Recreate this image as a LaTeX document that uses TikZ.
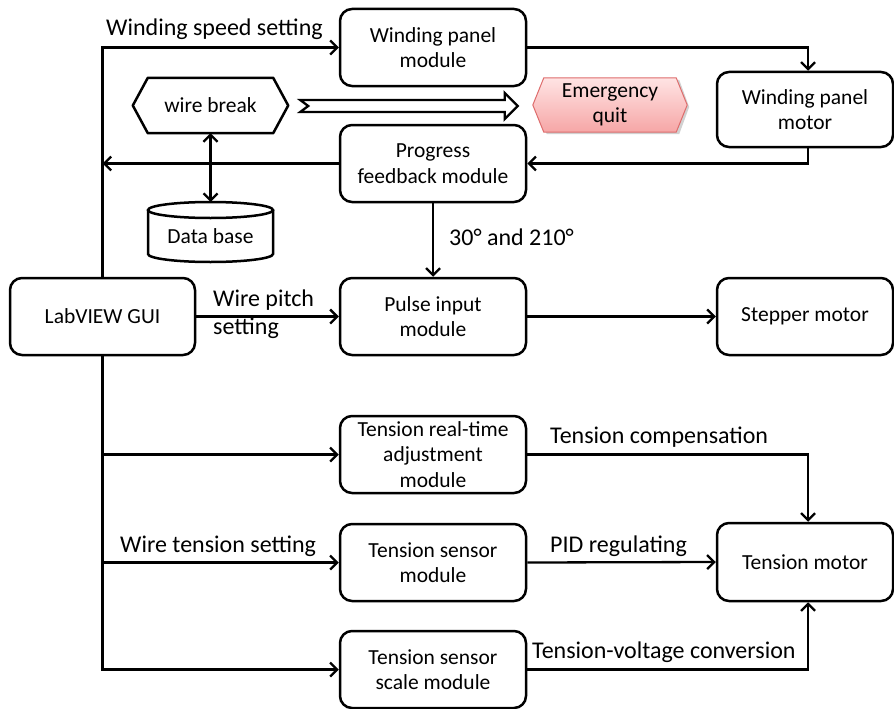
\documentclass[tikz,border=0pt]{standalone}
\usepackage{fontspec}
\setmainfont{Carlito}
\usetikzlibrary{arrows.meta,calc,backgrounds}
\definecolor{eqtop}{RGB}{255,228,228}
\definecolor{eqbot}{RGB}{246,166,166}
\definecolor{eqline}{RGB}{222,108,108}
\begin{document}
\begin{tikzpicture}[x=1pt,y=-1pt,
  boxfont/.style={font=\fontsize{21.5}{25.5}\selectfont},
  box/.style={draw, line width=2.5pt, rounded corners=12pt, align=center, boxfont, inner sep=0pt},
  mod/.style={box, minimum width=186pt, minimum height=77pt},
  motorbox/.style={box, minimum width=176pt, minimum height=77pt},
  lbl/.style={font=\fontsize{24}{28}\selectfont, inner sep=0pt, align=left},
  arr/.style={line width=2.3pt, -{Straight Barb[length=7pt,width=14pt,line width=2.3pt]}},
  darr/.style={line width=2.3pt, {Straight Barb[length=7pt,width=14pt,line width=2.3pt]}-{Straight Barb[length=7pt,width=14pt,line width=2.3pt]}},
  shapeline/.style={line width=2.5pt, line join=round},
]
\useasboundingbox (0,0) rectangle (894,709);

% main boxes
\node[box, minimum width=185pt, minimum height=77pt] (gui) at (102.5,316.5) {LabVIEW GUI};
\node[mod] (wpm) at (433,47.5) {Winding panel\\module};
\node[mod] (pfm) at (433,163.5) {Progress\\feedback module};
\node[mod] (pim) at (433,316.5) {Pulse input\\module};
\node[mod] (trt) at (433,454.5) {Tension real-time\\adjustment\\module};
\node[mod] (tsm) at (433,562.5) {Tension sensor\\module};
\node[mod] (tssm) at (433,669.5) {Tension sensor\\scale module};
\node[motorbox, minimum height=75pt] (wpmot) at (805,109.5) {Winding panel\\motor};
\node[motorbox] (sm) at (805,316.5) {Stepper motor};
\node[motorbox, minimum height=78pt] (tm) at (805,562) {Tension motor};

% wire break hexagon
\node[boxfont, minimum width=155pt, minimum height=55pt, inner sep=0pt] (wb) at (210.5,105.5) {wire break};
\begin{scope}[on background layer]
\draw[shapeline] (wb.west) -- ([xshift=15pt]wb.north west) -- ([xshift=-15pt]wb.north east)
  -- (wb.east) -- ([xshift=-15pt]wb.south east) -- ([xshift=15pt]wb.south west) -- cycle;
\end{scope}

% emergency quit hexagon
\node[boxfont, minimum width=154pt, minimum height=54pt, inner sep=0pt, align=center] (eq) at (610,105) {Emergency\\quit};
\begin{scope}[on background layer]
\fill[black!18] ([xshift=2pt,yshift=-2pt]eq.west) -- ([xshift=14pt,yshift=-2pt]eq.north west) -- ([xshift=-8pt,yshift=-2pt]eq.north east)
  -- ([xshift=2pt,yshift=-2pt]eq.east) -- ([xshift=-8pt,yshift=-2pt]eq.south east) -- ([xshift=14pt,yshift=-2pt]eq.south west) -- cycle;
\shade[top color=eqtop, bottom color=eqbot, draw=eqline, line width=1pt]
  (eq.west) -- ([xshift=11pt]eq.north west) -- ([xshift=-11pt]eq.north east)
  -- (eq.east) -- ([xshift=-11pt]eq.south east) -- ([xshift=11pt]eq.south west) -- cycle;
\end{scope}

% hollow arrow from wire break to emergency quit
\coordinate (hatail) at ($(wb.east)+(12,0.5)$);
\coordinate (hatip) at ($(eq.west)+(-15,1)$);
\draw[line width=2.3pt, line join=miter]
  ($(hatail)+(0,-6)$) -- ($(hatip)+(-13,-6)$) -- ($(hatip)+(-13,-13)$) -- (hatip)
  -- ($(hatip)+(-13,13)$) -- ($(hatip)+(-13,6)$) -- ($(hatail)+(0,6)$) -- ($(hatail)+(8,0)$) -- cycle;

% data base cylinder
\node[boxfont, minimum width=125pt, minimum height=40pt, inner sep=0pt] (db) at (210.5,236.5) {Data base};
\coordinate (dbtop) at ($(db.center)+(0,-34.5)$);
\begin{scope}[on background layer]
\draw[line width=2.5pt] ($(db.center)+(0,-26.5)$) ellipse [x radius=62.5pt, y radius=8pt];
\draw[line width=2.5pt] ($(db.center)+(-62.5,-26.5)$) -- ($(db.center)+(-62.5,17.5)$)
  arc[start angle=180, end angle=0, x radius=62.5, y radius=8] -- ($(db.center)+(62.5,-26.5)$);
\end{scope}
\draw[darr] (wb.south) -- (dbtop);

% connectors
\coordinate (wpmtop) at ($(wpmot.north)+(3,0)$);
\coordinate (wpmbot) at ($(wpmot.south)+(3,0)$);
\coordinate (tmtop) at ($(tm.north)+(3,0)$);
\coordinate (tmbot) at ($(tm.south)+(3,0)$);

\draw[arr] (gui.north) |- (wpm.west);
\draw[arr] (wpm.east) -| (wpmtop);
\draw[arr] (wpmbot) |- (pfm.east);
\draw[arr] (pfm.west) -- (pfm.west -| gui.north);
\draw[arr] (pfm.south) -- (pim.north);
\draw[arr] (gui.east) -- (pim.west);
\draw[arr] (pim.east) -- (sm.west);
\draw[arr] (gui.south) |- (trt.west);
\draw[arr] (gui.south) |- (tsm.west);
\draw[arr] (gui.south) |- (tssm.west);
\draw[arr] (trt.east) -| (tmtop);
\draw[arr] (tsm.east) -- (tm.west);
\draw[arr] (tssm.east) -| (tmbot);

% labels
\node[lbl, anchor=base west] (l1) at (106,36) {Winding speed setting};
\node[lbl, anchor=base west] (l2) at (213,334) {Wire pitch\\setting};
\node[lbl, anchor=base west] (l3) at (449,245) {30° and 210°};
\node[lbl, anchor=base west] (l4) at (550,443) {Tension compensation};
\node[lbl, anchor=base west] (l5) at (550,552) {PID regulating};
\node[lbl, anchor=base west] (l6) at (532,658) {Tension-voltage conversion};
\node[lbl, anchor=base west] (l7) at (120,552) {Wire tension setting};
\end{tikzpicture}
\end{document}
